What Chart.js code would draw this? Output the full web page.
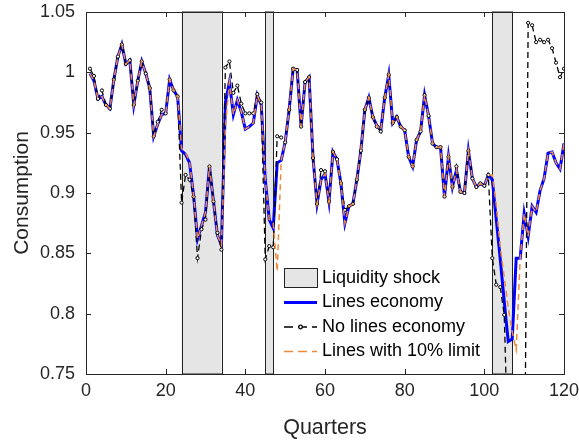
<!DOCTYPE html>
<html lang="en">
<head>
    <meta charset="UTF-8">
    <title>Consumption</title>
    <script src="https://cdn.jsdelivr.net/npm/chart.js"></script>
    <style>
        html, body { margin: 0; padding: 0; background: #fff; }
        .chart-container { width: 579px; height: 441px; }
    </style>
</head>
<body>
    <div class="chart-container">
        <canvas id="consumptionChart"></canvas>
    </div>

    <script>
        // data
        const quarters = Array.from({ length: 120 }, (_, i) => i + 1);

        const linesEconomy = [
            0.999, 0.993, 0.978, 0.980, 0.973, 0.970, 0.994, 1.013, 1.023, 1.007,
            1.010, 0.973, 0.993, 1.009, 0.999, 0.987, 0.947, 0.957, 0.965, 0.966,
            0.994, 0.985, 0.980, 0.935, 0.932, 0.925, 0.898, 0.862, 0.873, 0.884,
            0.922, 0.893, 0.865, 0.857, 0.975, 0.992, 0.965, 0.977, 0.967, 0.953,
            0.955, 0.958, 0.981, 0.973, 0.911, 0.878, 0.871, 0.925, 0.927, 0.942,
            0.969, 1.003, 1.002, 0.955, 0.992, 0.996, 0.929, 0.891, 0.911, 0.916,
            0.893, 0.934, 0.928, 0.908, 0.875, 0.889, 0.891, 0.911, 0.935, 0.969,
            0.979, 0.963, 0.956, 0.952, 0.979, 0.998, 0.958, 0.963, 0.955, 0.952,
            0.930, 0.922, 0.944, 0.951, 0.981, 0.964, 0.941, 0.938, 0.938, 0.897,
            0.930, 0.905, 0.919, 0.901, 0.900, 0.935, 0.912, 0.905, 0.908, 0.906,
            0.915, 0.911, 0.878, 0.845, 0.810, 0.777, 0.779, 0.846, 0.846, 0.883,
            0.864, 0.889, 0.884, 0.902, 0.912, 0.933, 0.934, 0.925, 0.920, 0.941
        ];

        // below 0.75 the series leaves the plot (106-110)
        const noLinesEconomy = [
            1.003, 0.997, 0.978, 0.985, 0.973, 0.970, 0.994, 1.013, 1.023, 1.007,
            1.010, 0.973, 0.993, 1.009, 0.999, 0.987, 0.947, 0.959, 0.969, 0.966,
            0.994, 0.985, 0.980, 0.892, 0.915, 0.911, 0.897, 0.846, 0.870, 0.878,
            0.922, 0.893, 0.867, 0.853, 1.004, 1.009, 0.983, 0.989, 0.974, 0.966,
            0.966, 0.966, 0.982, 0.975, 0.845, 0.856, 0.855, 0.947, 0.946, 0.942,
            0.969, 1.003, 1.002, 0.955, 0.992, 0.996, 0.929, 0.891, 0.919, 0.918,
            0.893, 0.934, 0.928, 0.908, 0.886, 0.889, 0.891, 0.911, 0.935, 0.969,
            0.979, 0.963, 0.955, 0.951, 0.979, 0.998, 0.958, 0.963, 0.955, 0.952,
            0.930, 0.922, 0.944, 0.951, 0.981, 0.964, 0.941, 0.938, 0.938, 0.897,
            0.930, 0.905, 0.922, 0.901, 0.900, 0.935, 0.912, 0.905, 0.908, 0.906,
            0.915, 0.846, 0.824, 0.822, 0.799, 0.680, 0.620, 0.620, 0.620, 0.610,
            1.041, 1.039, 1.025, 1.027, 1.025, 1.027, 1.020, 1.008, 0.996, 1.003
        ];

        const linesLimit10 = [
            0.999, 0.993, 0.978, 0.980, 0.973, 0.970, 0.994, 1.013, 1.023, 1.007,
            1.010, 0.973, 0.993, 1.009, 0.999, 0.987, 0.947, 0.957, 0.965, 0.966,
            0.994, 0.985, 0.980, 0.937, 0.933, 0.926, 0.898, 0.862, 0.873, 0.884,
            0.922, 0.893, 0.865, 0.857, 0.955, 0.992, 0.965, 0.977, 0.967, 0.953,
            0.955, 0.958, 0.981, 0.973, 0.911, 0.878, 0.875, 0.835, 0.927, 0.942,
            0.969, 1.003, 1.002, 0.955, 0.992, 0.996, 0.929, 0.891, 0.911, 0.916,
            0.893, 0.934, 0.928, 0.908, 0.875, 0.889, 0.891, 0.911, 0.935, 0.969,
            0.979, 0.963, 0.956, 0.952, 0.979, 0.998, 0.958, 0.963, 0.955, 0.952,
            0.930, 0.922, 0.944, 0.951, 0.981, 0.964, 0.941, 0.938, 0.938, 0.897,
            0.930, 0.905, 0.919, 0.901, 0.900, 0.935, 0.912, 0.905, 0.908, 0.906,
            0.915, 0.915, 0.890, 0.855, 0.830, 0.805, 0.785, 0.770, 0.846, 0.883,
            0.864, 0.889, 0.884, 0.902, 0.912, 0.933, 0.934, 0.925, 0.920, 0.941
        ];

        const shockPeriods = [[24, 34], [45, 47], [102, 107]];

        const xTicks = [0, 20, 40, 60, 80, 100, 120];
        const yTicks = [0.75, 0.8, 0.85, 0.9, 0.95, 1, 1.05];
        const yTickLabels = ['0.75', '0.8', '0.85', '0.9', '0.95', '1', '1.05'];

        const FONT = '"Liberation Sans", Arial, Helvetica, sans-serif';
        const AXIS_COLOR = '#262626';
        const SHADE_FILL = '#e5e5e5';
        const BLUE = '#0000ff';
        const ORANGE = '#ee8a3c';

        const toPoints = (arr) => quarters.map((q, i) => ({ x: q, y: arr[i] }));

        // grey bars for the liquidity shock periods
        const shockShading = {
            id: 'shockShading',
            beforeDatasetsDraw(chart) {
                const { ctx, chartArea, scales } = chart;
                ctx.save();
                shockPeriods.forEach(([a, b]) => {
                    const x0 = scales.x.getPixelForValue(a);
                    const x1 = scales.x.getPixelForValue(b);
                    ctx.fillStyle = SHADE_FILL;
                    ctx.fillRect(x0, chartArea.top, x1 - x0, chartArea.bottom - chartArea.top);
                    ctx.strokeStyle = '#222';
                    ctx.lineWidth = 1;
                    ctx.strokeRect(Math.round(x0) + 0.5, chartArea.top, Math.round(x1 - x0), chartArea.bottom - chartArea.top);
                });
                ctx.restore();
            }
        };

        // matlab style box with inward ticks
        const axesBox = {
            id: 'axesBox',
            afterDraw(chart) {
                const { ctx, chartArea, scales } = chart;
                const { left, right, top, bottom } = chartArea;
                const tl = 5;
                ctx.save();
                ctx.strokeStyle = AXIS_COLOR;
                ctx.lineWidth = 1;
                ctx.strokeRect(Math.round(left) + 0.5, Math.round(top) + 0.5, Math.round(right - left), Math.round(bottom - top));
                ctx.beginPath();
                xTicks.forEach(v => {
                    const px = Math.round(scales.x.getPixelForValue(v)) + 0.5;
                    ctx.moveTo(px, bottom); ctx.lineTo(px, bottom - tl);
                    ctx.moveTo(px, top); ctx.lineTo(px, top + tl);
                });
                yTicks.forEach(v => {
                    const py = Math.round(scales.y.getPixelForValue(v)) + 0.5;
                    ctx.moveTo(left, py); ctx.lineTo(left + tl, py);
                    ctx.moveTo(right, py); ctx.lineTo(right - tl, py);
                });
                ctx.stroke();
                ctx.restore();
            }
        };

        // legend inside the axes, no box
        const insideLegend = {
            id: 'insideLegend',
            afterDraw(chart) {
                const { ctx, chartArea } = chart;
                const lx = chartArea.left + 198;
                const ly = chartArea.top + 266;
                const rowH = 24.5;
                const lineW = 33;
                const textX = lx + 38;
                ctx.save();
                ctx.font = '18px ' + FONT;
                ctx.fillStyle = '#000';
                ctx.textBaseline = 'middle';

                // patch
                ctx.fillStyle = SHADE_FILL;
                ctx.fillRect(lx, ly - 9.5, lineW, 19);
                ctx.strokeStyle = '#222';
                ctx.lineWidth = 1;
                ctx.strokeRect(lx + 0.5, ly - 9.5, lineW, 19);
                ctx.fillStyle = '#000';
                ctx.fillText('Liquidity shock', textX, ly);

                // blue line
                let y = ly + rowH;
                ctx.strokeStyle = BLUE;
                ctx.lineWidth = 3;
                ctx.beginPath(); ctx.moveTo(lx, y); ctx.lineTo(lx + lineW, y); ctx.stroke();
                ctx.fillText('Lines economy', textX, y);

                // black dashed with marker
                y += rowH;
                ctx.strokeStyle = '#000';
                ctx.lineWidth = 1.3;
                ctx.setLineDash([9, 5]);
                ctx.beginPath(); ctx.moveTo(lx, y); ctx.lineTo(lx + lineW, y); ctx.stroke();
                ctx.setLineDash([]);
                ctx.fillStyle = '#fff';
                ctx.beginPath(); ctx.arc(lx + lineW / 2, y, 1.8, 0, Math.PI * 2); ctx.fill(); ctx.stroke();
                ctx.fillStyle = '#000';
                ctx.fillText('No lines economy', textX, y);

                // orange dashed
                y += rowH;
                ctx.strokeStyle = ORANGE;
                ctx.lineWidth = 1.5;
                ctx.setLineDash([9, 5]);
                ctx.beginPath(); ctx.moveTo(lx, y); ctx.lineTo(lx + lineW, y); ctx.stroke();
                ctx.setLineDash([]);
                ctx.fillText('Lines with 10% limit', textX, y);
                ctx.restore();
            }
        };

        Chart.defaults.font.family = FONT;
        Chart.defaults.color = AXIS_COLOR;

        const ctx = document.getElementById('consumptionChart').getContext('2d');
        new Chart(ctx, {
            type: 'line',
            data: {
                datasets: [
                    {
                        label: 'Lines economy',
                        data: toPoints(linesEconomy),
                        borderColor: BLUE,
                        borderWidth: 3,
                        pointRadius: 0,
                        tension: 0,
                        order: 3
                    },
                    {
                        label: 'No lines economy',
                        data: toPoints(noLinesEconomy),
                        borderColor: '#000',
                        borderWidth: 1.3,
                        borderDash: [6, 4],
                        pointRadius: 1.6,
                        pointBorderWidth: 1,
                        pointBackgroundColor: '#fff',
                        pointBorderColor: '#000',
                        tension: 0,
                        order: 2
                    },
                    {
                        label: 'Lines with 10% limit',
                        data: toPoints(linesLimit10),
                        borderColor: ORANGE,
                        borderWidth: 1.5,
                        borderDash: [6, 4],
                        pointRadius: 0,
                        tension: 0,
                        order: 1
                    }
                ]
            },
            options: {
                responsive: true,
                maintainAspectRatio: false,
                animation: false,
                events: [],
                layout: { padding: { left: 0, right: 15, top: 12, bottom: 0 } },
                plugins: {
                    legend: { display: false },
                    tooltip: { enabled: false }
                },
                scales: {
                    x: {
                        type: 'linear',
                        min: 0,
                        max: 120,
                        afterBuildTicks: (s) => { s.ticks = xTicks.map(v => ({ value: v })); },
                        afterFit: (s) => {
                            s.height = 67;
                            s.paddingLeft = 0;
                            s.paddingRight = 0;
                        },
                        grid: { display: false, drawTicks: false },
                        border: { display: false },
                        ticks: {
                            font: { size: 18 },
                            color: AXIS_COLOR,
                            padding: 6,
                            maxRotation: 0
                        },
                        title: {
                            display: true,
                            text: 'Quarters',
                            font: { size: 21.5 },
                            color: AXIS_COLOR,
                            padding: { top: 0, bottom: 0 }
                        }
                    },
                    y: {
                        min: 0.75,
                        max: 1.05,
                        afterBuildTicks: (s) => { s.ticks = yTicks.map(v => ({ value: v })); },
                        afterFit: (s) => {
                            s.width = 86;
                            s.paddingTop = 0;
                            s.paddingBottom = 0;
                        },
                        grid: { display: false, drawTicks: false },
                        border: { display: false },
                        ticks: {
                            font: { size: 18 },
                            color: AXIS_COLOR,
                            padding: 11,
                            callback: (v) => yTickLabels[yTicks.indexOf(v)] ?? ''
                        },
                        title: {
                            display: true,
                            text: 'Consumption',
                            font: { size: 21 },
                            color: AXIS_COLOR,
                            padding: { top: 10, bottom: 0 }
                        }
                    }
                }
            },
            plugins: [shockShading, axesBox, insideLegend]
        });
    </script>
</body>
</html>
